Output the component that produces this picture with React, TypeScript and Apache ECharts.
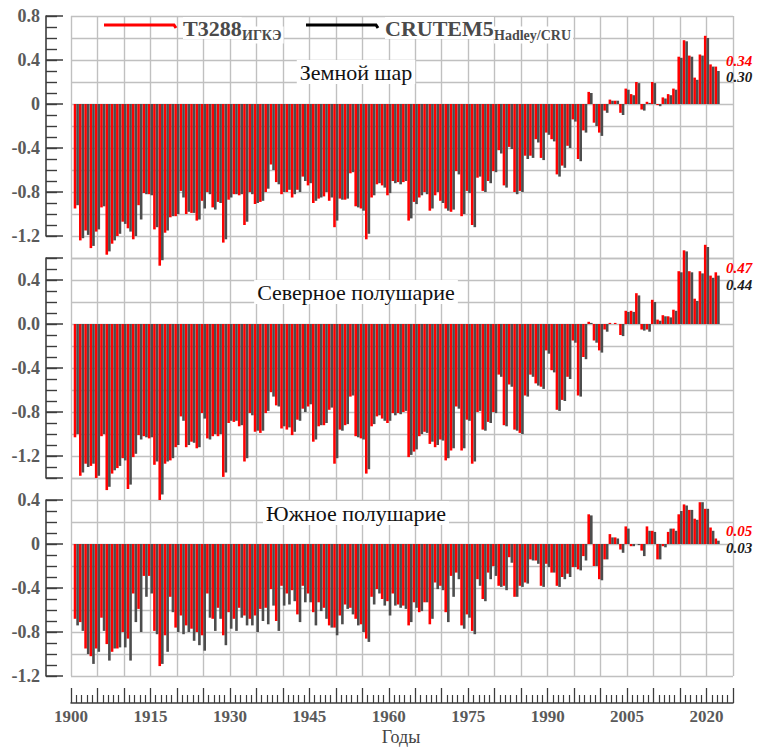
import React, { useEffect, useRef } from "react";
import * as echarts from "echarts";

// Years 1901..2022
const FIRST_YEAR = 1901;
const LAST_YEAR = 2022;
const years: number[] = [];
for (let y = FIRST_YEAR; y <= LAST_YEAR; y++) years.push(y);

// Земной шар — T3288 (ИГКЭ)
const globeT3288 = [
  -0.95, -1.24, -1.15, -1.31, -1.16, -0.94, -1.37, -1.27, -1.20, -1.07,
  -1.13, -1.23, -0.92, -0.81, -0.82, -1.14, -1.47, -1.17, -1.03, -1.02,
  -0.79, -1.00, -0.99, -1.06, -0.88, -0.80, -0.94, -0.89, -1.26, -0.87,
  -0.82, -0.83, -1.10, -0.80, -0.91, -0.89, -0.80, -0.55, -0.71, -0.82,
  -0.80, -0.85, -0.78, -0.66, -0.74, -0.90, -0.86, -0.84, -0.88, -1.12,
  -0.86, -0.87, -0.63, -0.93, -0.95, -1.23, -0.85, -0.73, -0.74, -0.83,
  -0.70, -0.71, -0.71, -1.06, -0.89, -0.85, -0.80, -0.97, -0.83, -0.88,
  -0.95, -0.98, -0.61, -1.02, -0.79, -1.10, -0.67, -0.79, -0.70, -0.61,
  -0.42, -0.74, -0.39, -0.80, -0.79, -0.47, -0.47, -0.32, -0.49, -0.26,
  -0.32, -0.64, -0.56, -0.38, -0.14, -0.50, -0.24, 0.11, -0.17, -0.26,
  -0.06, 0.04, 0.03, -0.08, 0.14, 0.09, 0.20, -0.05, 0.02, 0.20,
  -0.01, 0.06, 0.09, 0.14, 0.43, 0.58, 0.44, 0.24, 0.45, 0.62,
  0.36, 0.34,
];
// Земной шар — CRUTEM5 (Hadley/CRU)
const globeCRUTEM5 = [
  -0.92, -1.22, -1.19, -1.29, -1.14, -0.93, -1.34, -1.24, -1.18, -1.09,
  -1.16, -1.20, -1.05, -0.82, -0.83, -1.12, -1.42, -1.15, -1.02, -1.00,
  -0.85, -0.98, -0.99, -1.05, -0.95, -0.82, -0.96, -0.90, -1.23, -0.85,
  -0.82, -0.82, -1.07, -0.82, -0.90, -0.88, -0.77, -0.60, -0.73, -0.80,
  -0.78, -0.82, -0.80, -0.70, -0.72, -0.88, -0.85, -0.80, -0.85, -1.06,
  -0.87, -0.86, -0.62, -0.94, -0.97, -1.18, -0.83, -0.72, -0.76, -0.81,
  -0.72, -0.73, -0.70, -1.04, -0.91, -0.83, -0.82, -0.95, -0.80, -0.90,
  -0.97, -0.96, -0.64, -1.00, -0.81, -1.12, -0.66, -0.80, -0.72, -0.62,
  -0.45, -0.76, -0.41, -0.82, -0.80, -0.50, -0.49, -0.35, -0.51, -0.28,
  -0.34, -0.66, -0.58, -0.40, -0.16, -0.52, -0.26, 0.10, -0.20, -0.29,
  -0.08, 0.03, 0.03, -0.10, 0.13, 0.08, 0.19, -0.06, 0.01, 0.19,
  -0.02, 0.05, 0.08, 0.13, 0.42, 0.57, 0.43, 0.22, 0.44, 0.60,
  0.34, 0.30,
];
// Северное полушарие — T3288
const nhT3288 = [
  -1.03, -1.38, -1.27, -1.29, -1.40, -1.02, -1.51, -1.36, -1.31, -1.22,
  -1.50, -1.21, -1.01, -1.02, -1.04, -1.28, -1.60, -1.27, -1.24, -1.12,
  -0.84, -1.12, -1.07, -1.13, -0.81, -1.04, -1.02, -1.02, -1.39, -0.90,
  -0.89, -0.93, -1.25, -0.81, -0.98, -0.99, -0.81, -0.62, -0.74, -0.95,
  -0.96, -1.01, -0.87, -0.77, -0.75, -1.07, -0.93, -0.92, -0.78, -1.27,
  -0.96, -0.92, -0.66, -1.02, -1.04, -1.36, -0.93, -0.84, -0.86, -0.90,
  -0.81, -0.81, -0.80, -1.21, -1.16, -1.02, -0.98, -1.09, -1.12, -1.05,
  -1.24, -1.15, -0.75, -1.15, -0.87, -1.27, -0.80, -0.96, -0.89, -0.80,
  -0.46, -0.92, -0.55, -0.96, -0.99, -0.65, -0.46, -0.54, -0.57, -0.24,
  -0.42, -0.78, -0.69, -0.48, -0.15, -0.65, -0.30, 0.02, -0.15, -0.24,
  -0.05, 0.01, 0.01, -0.10, 0.12, 0.12, 0.28, -0.05, -0.05, 0.22,
  0.04, 0.08, 0.07, 0.13, 0.48, 0.67, 0.48, 0.23, 0.48, 0.72,
  0.44, 0.47,
];
// Северное полушарие — CRUTEM5
const nhCRUTEM5 = [
  -1.00, -1.35, -1.30, -1.27, -1.38, -1.00, -1.48, -1.33, -1.29, -1.24,
  -1.46, -1.18, -1.05, -1.03, -1.03, -1.25, -1.55, -1.25, -1.22, -1.10,
  -0.88, -1.10, -1.08, -1.12, -0.86, -1.05, -1.00, -1.00, -1.35, -0.88,
  -0.88, -0.92, -1.22, -0.83, -0.97, -0.97, -0.79, -0.66, -0.75, -0.93,
  -0.94, -0.98, -0.88, -0.80, -0.73, -1.05, -0.92, -0.90, -0.76, -1.22,
  -0.97, -0.91, -0.65, -1.03, -1.05, -1.32, -0.91, -0.83, -0.88, -0.88,
  -0.83, -0.82, -0.79, -1.19, -1.14, -1.00, -0.99, -1.07, -1.10, -1.06,
  -1.22, -1.13, -0.77, -1.13, -0.88, -1.25, -0.79, -0.97, -0.90, -0.81,
  -0.48, -0.93, -0.57, -0.97, -1.00, -0.66, -0.48, -0.56, -0.59, -0.27,
  -0.44, -0.79, -0.70, -0.50, -0.17, -0.66, -0.32, 0.01, -0.17, -0.26,
  -0.07, 0.00, 0.00, -0.11, 0.11, 0.11, 0.26, -0.06, -0.07, 0.20,
  0.03, 0.07, 0.06, 0.12, 0.47, 0.66, 0.47, 0.21, 0.46, 0.70,
  0.42, 0.44,
];
// Южное полушарие — T3288
const shT3288 = [
  -0.68, -0.71, -0.95, -1.02, -0.95, -0.67, -0.91, -0.98, -0.95, -0.80,
  -0.86, -0.45, -0.59, -0.29, -0.29, -0.79, -1.11, -0.83, -0.48, -0.76,
  -0.65, -0.74, -0.77, -0.80, -0.83, -0.45, -0.68, -0.58, -0.83, -0.62,
  -0.68, -0.58, -0.65, -0.68, -0.65, -0.59, -0.58, -0.41, -0.70, -0.38,
  -0.45, -0.42, -0.64, -0.38, -0.45, -0.62, -0.53, -0.58, -0.74, -0.76,
  -0.65, -0.55, -0.58, -0.68, -0.73, -0.86, -0.48, -0.41, -0.50, -0.52,
  -0.45, -0.55, -0.56, -0.74, -0.53, -0.62, -0.53, -0.73, -0.35, -0.38,
  -0.62, -0.29, -0.26, -0.74, -0.64, -0.79, -0.32, -0.50, -0.26, -0.20,
  -0.38, -0.38, -0.12, -0.48, -0.38, -0.35, -0.14, -0.15, -0.38, -0.18,
  -0.26, -0.38, -0.30, -0.27, -0.21, -0.23, -0.11, 0.27, -0.20, -0.32,
  -0.14, 0.09, 0.06, -0.05, 0.16, -0.02, 0.00, -0.06, 0.16, 0.12,
  -0.14, -0.02, 0.11, 0.14, 0.27, 0.36, 0.31, 0.23, 0.38, 0.32,
  0.15, 0.05,
];
// Южное полушарие — CRUTEM5
const shCRUTEM5 = [
  -0.74, -0.79, -1.00, -1.09, -0.98, -0.79, -1.06, -0.95, -0.94, -0.94,
  -1.06, -0.71, -0.80, -0.48, -0.45, -0.82, -1.09, -0.98, -0.62, -0.80,
  -0.82, -0.80, -0.88, -0.92, -0.97, -0.67, -0.79, -0.68, -0.92, -0.77,
  -0.79, -0.67, -0.74, -0.74, -0.80, -0.70, -0.73, -0.56, -0.79, -0.56,
  -0.55, -0.52, -0.71, -0.53, -0.53, -0.74, -0.61, -0.68, -0.76, -0.83,
  -0.73, -0.59, -0.64, -0.74, -0.80, -0.89, -0.55, -0.45, -0.56, -0.65,
  -0.56, -0.58, -0.59, -0.71, -0.58, -0.61, -0.53, -0.68, -0.41, -0.42,
  -0.71, -0.48, -0.32, -0.77, -0.67, -0.82, -0.38, -0.52, -0.32, -0.29,
  -0.39, -0.42, -0.17, -0.48, -0.39, -0.36, -0.15, -0.18, -0.39, -0.21,
  -0.26, -0.39, -0.32, -0.30, -0.21, -0.24, -0.15, 0.26, -0.20, -0.33,
  -0.14, 0.06, 0.05, -0.08, 0.14, -0.02, -0.01, -0.11, 0.12, 0.11,
  -0.14, -0.03, 0.14, 0.12, 0.30, 0.35, 0.31, 0.22, 0.38, 0.32,
  0.12, 0.03,
];

const panelTitles = ["Земной шар", "Северное полушарие", "Южное полушарие"];
const seriesNames = ["T3288", "CRUTEM5"];
const seriesSubs = ["ИГКЭ", "Hadley/CRU"];
const xAxisTitle = "Годы";

// y-axis tick labels per panel
const yLabelValues = [
  [0.8, 0.4, 0, -0.4, -0.8, -1.2],
  [0.4, 0, -0.4, -0.8, -1.2],
  [0.4, 0, -0.4, -0.8, -1.2],
];
const yMajorTicks = [
  [0.8, 0.4, 0, -0.4, -0.8, -1.2],
  [0.6, 0.4, 0, -0.4, -0.8, -1.2, -1.4],
  [0.4, 0, -0.4, -0.8, -1.2],
];
const zeroText = ["0", "0.0", "0"];

// panel ranges: data grid (grid lines) and visible axis range
const dataRanges = [
  [-1.4, 0.8],
  [-1.4, 0.6],
  [-1.2, 0.6],
];
const axisRanges = [
  [-1.2, 0.8],
  [-1.4, 0.6],
  [-1.2, 0.4],
];
const X_MIN = 1900;
const X_MAX = 2025;
const X_LABEL_STEP = 15;

const RED = "#ff0000";
const GRAY = "#4d4d4d";
const GRID_COLOR = "#c0c0c0";
const AXIS_COLOR = "#3c3c3c";
const LABEL_COLOR = "#5a5a5a";
const SERIF = '"Liberation Serif", "Times New Roman", serif';

export default function App() {
  const ref = useRef<HTMLDivElement>(null);

  useEffect(() => {
    if (!ref.current) return;
    const chart = echarts.init(ref.current, null, { renderer: "svg" });

    const PX_PER_UNIT = 110; // pixels per 1.0 degree
    const LEFT = 71;
    const WIDTH = 662;
    const dataTops = [16, 258, 478];
    const axisLeft = 46;

    const grids: any[] = [];
    dataRanges.forEach((r, i) => {
      grids.push({
        left: LEFT,
        top: dataTops[i],
        width: WIDTH,
        height: (r[1] - r[0]) * PX_PER_UNIT,
        containLabel: false,
      });
    });
    axisRanges.forEach((r, i) => {
      const top = dataTops[i] + (dataRanges[i][1] - r[1]) * PX_PER_UNIT;
      grids.push({
        left: axisLeft,
        top,
        width: 10,
        height: (r[1] - r[0]) * PX_PER_UNIT,
      });
    });

    const xAxes: any[] = [];
    for (let i = 0; i < 3; i++) {
      const isBottom = i === 2;
      xAxes.push({
        type: "value",
        gridIndex: i,
        min: X_MIN,
        max: X_MAX,
        interval: 5,
        offset: isBottom ? 27 : 0,
        axisLine: {
          show: isBottom,
          onZero: false,
          lineStyle: { color: AXIS_COLOR, width: 1.5 },
        },
        axisTick: {
          show: isBottom,
          inside: true,
          length: 15,
          lineStyle: { color: AXIS_COLOR, width: 1.3 },
        },
        minorTick: {
          show: isBottom,
          splitNumber: 5,
          length: 8,
          lineStyle: { color: AXIS_COLOR, width: 1.2 },
        },
        axisLabel: {
          show: isBottom,
          margin: 5,
          color: LABEL_COLOR,
          fontFamily: SERIF,
          fontWeight: "bold",
          fontSize: 17,
          formatter: (v: number) =>
            (v - X_MIN) % X_LABEL_STEP === 0 ? String(v) : "",
        },
        splitLine: {
          show: true,
          lineStyle: { color: GRID_COLOR, width: 1.4 },
        },
        minorSplitLine: { show: false },
      });
    }
    for (let i = 0; i < 3; i++) {
      xAxes.push({
        type: "value",
        gridIndex: 3 + i,
        min: 0,
        max: 1,
        show: false,
      });
    }

    const yAxes: any[] = [];
    dataRanges.forEach((r, i) => {
      yAxes.push({
        type: "value",
        gridIndex: i,
        min: r[0],
        max: r[1],
        interval: 0.2,
        axisLine: { show: false },
        axisTick: { show: false },
        axisLabel: { show: false },
        splitLine: { show: true, lineStyle: { color: GRID_COLOR, width: 1.4 } },
      });
    });
    // minor tick axes (0.1 step) with axis line
    axisRanges.forEach((r, i) => {
      yAxes.push({
        type: "value",
        gridIndex: 3 + i,
        position: "left",
        offset: 0,
        min: r[0],
        max: r[1],
        interval: 0.1,
        axisLine: { show: true, lineStyle: { color: AXIS_COLOR, width: 1.6 } },
        axisTick: {
          show: true,
          inside: true,
          length: 11,
          lineStyle: { color: AXIS_COLOR, width: 1.4 },
        },
        axisLabel: { show: false },
        splitLine: { show: false },
      });
    });
    // major tick + label axes
    axisRanges.forEach((r, i) => {
      yAxes.push({
        type: "value",
        gridIndex: 3 + i,
        position: "left",
        offset: 0,
        min: r[0],
        max: r[1],
        axisLine: { show: false },
        axisTick: {
          show: true,
          inside: true,
          length: 17,
          customValues: yMajorTicks[i],
          lineStyle: { color: AXIS_COLOR, width: 1.5 },
        },
        axisLabel: {
          show: true,
          customValues: yLabelValues[i],
          margin: 6,
          color: LABEL_COLOR,
          fontFamily: SERIF,
          fontWeight: "bold",
          fontSize: 18,
          formatter: (v: number) =>
            Math.abs(v) < 1e-9 ? zeroText[i] : v.toFixed(1),
        },
        splitLine: { show: false },
      });
    });

    const panels = [
      [globeT3288, globeCRUTEM5],
      [nhT3288, nhCRUTEM5],
      [shT3288, shCRUTEM5],
    ];
    const series: any[] = [];
    panels.forEach((pair, i) => {
      pair.forEach((vals, k) => {
        series.push({
          type: "bar",
          name: seriesNames[k],
          xAxisIndex: i,
          yAxisIndex: i,
          data: years.map((y, j) => [y, vals[j]]),
          barWidth: 2.6,
          barGap: "0%",
          clip: false,
          silent: true,
          itemStyle: { color: k === 0 ? RED : GRAY },
        });
      });
    });

    const titleY = [72, 292, 513];
    const lastRedY = [61, 268, 531];
    const lastGrayY = [77, 285, 548];
    const graphics: any[] = [];
    panelTitles.forEach((t, i) => {
      graphics.push({
        type: "text",
        z: 100,
        x: 356,
        y: titleY[i],
        style: {
          text: t,
          fill: "#111",
          font: `22px ${SERIF}`,
          textAlign: "center",
          textVerticalAlign: "middle",
          backgroundColor: "#fff",
          padding: [1, 3],
        },
      });
      const redLast = panels[i][0][panels[i][0].length - 1];
      const grayLast = panels[i][1][panels[i][1].length - 1];
      graphics.push({
        type: "text",
        z: 100,
        x: 726,
        y: lastRedY[i],
        style: {
          text: redLast.toFixed(2),
          fill: RED,
          font: `italic bold 15px ${SERIF}`,
          textAlign: "left",
          textVerticalAlign: "middle",
        },
      });
      graphics.push({
        type: "text",
        z: 100,
        x: 726,
        y: lastGrayY[i],
        style: {
          text: grayLast.toFixed(2),
          fill: "#1a1a1a",
          font: `italic bold 15px ${SERIF}`,
          textAlign: "left",
          textVerticalAlign: "middle",
        },
      });
    });

    // legend
    const legendItems = [
      { lineX: [104, 174], color: RED, textX: 183, subX: 242 },
      { lineX: [306, 376], color: "#000", textX: 385, subX: 494 },
    ];
    legendItems.forEach((it, k) => {
      graphics.push({
        type: "polyline",
        z: 100,
        shape: {
          points: [
            [it.lineX[0], 25],
            [it.lineX[1], 25],
            [it.lineX[1] + 2, 28],
          ],
        },
        style: { stroke: it.color, lineWidth: 3, fill: "none" },
      });
      graphics.push({
        type: "text",
        z: 100,
        x: it.textX,
        y: 28,
        style: {
          text: seriesNames[k],
          fill: "#4a4a4a",
          font: `bold 22px ${SERIF}`,
          textAlign: "left",
          textVerticalAlign: "middle",
          backgroundColor: "#fff",
        },
      });
      graphics.push({
        type: "text",
        z: 100,
        x: it.subX,
        y: 35,
        style: {
          text: seriesSubs[k],
          fill: "#4a4a4a",
          font: `bold 14px ${SERIF}`,
          textAlign: "left",
          textVerticalAlign: "middle",
          backgroundColor: "#fff",
          padding: [1, 2, 2, 0],
        },
      });
    });

    graphics.push({
      type: "text",
      z: 100,
      x: 401,
      y: 737,
      style: {
        text: xAxisTitle,
        fill: "#444",
        font: `18px ${SERIF}`,
        textAlign: "center",
        textVerticalAlign: "middle",
      },
    });

    chart.setOption({
      animation: false,
      backgroundColor: "#fff",
      grid: grids,
      xAxis: xAxes,
      yAxis: yAxes,
      series,
      graphic: graphics,
    });

    return () => {
      chart.dispose();
    };
  }, []);

  return (
    <div
      ref={ref}
      style={{ position: "absolute", left: 0, top: 0, width: 757, height: 747 }}
    />
  );
}
